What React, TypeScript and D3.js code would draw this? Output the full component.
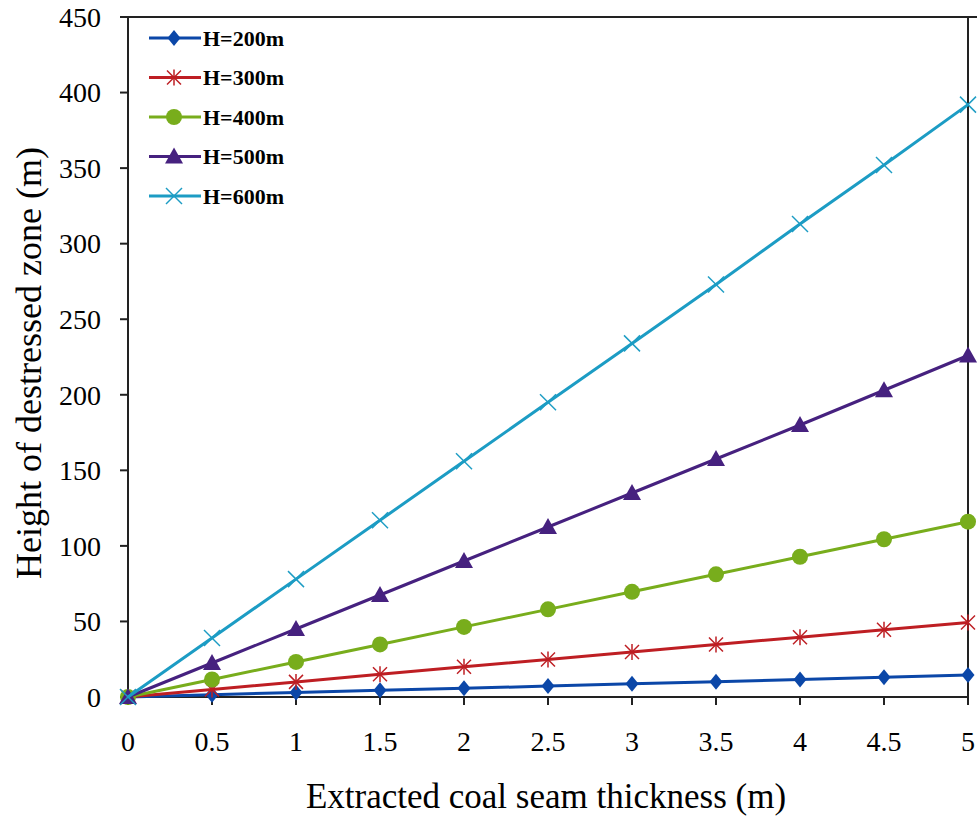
import React from 'react';
import * as d3 from 'd3';

const thickness = [0, 0.5, 1, 1.5, 2, 2.5, 3, 3.5, 4, 4.5, 5];
const h200 = [0, 1.5, 3, 4.4, 5.8, 7.2, 8.7, 10.1, 11.6, 13.1, 14.6];
const h300 = [0, 5, 10, 15, 20, 24.8, 29.8, 34.8, 39.6, 44.5, 49.3];
const h400 = [0, 11.6, 23.2, 34.8, 46.4, 58, 69.6, 81.2, 92.8, 104.4, 116];
const h500 = [0, 22.5, 45, 67.5, 90, 112.5, 135, 157.5, 180, 203, 226];
const h600 = [0, 39, 78, 117, 156, 195, 234, 273, 313, 352, 392];
const xTicks = [0, 0.5, 1, 1.5, 2, 2.5, 3, 3.5, 4, 4.5, 5];
const yTicks = [0, 50, 100, 150, 200, 250, 300, 350, 400, 450];

const series = [
  { name: 'H=200m', values: h200, color: '#0b47a8', marker: 'diamond' },
  { name: 'H=300m', values: h300, color: '#be1e23', marker: 'star' },
  { name: 'H=400m', values: h400, color: '#78ad1c', marker: 'circle' },
  { name: 'H=500m', values: h500, color: '#46217f', marker: 'triangle' },
  { name: 'H=600m', values: h600, color: '#1c9cc4', marker: 'cross' },
];

const W = 977;
const H = 820;
const margin = { left: 128, top: 17, right: 9, bottom: 123 };

const Marker = ({ type, x, y, color }: { type: string; x: number; y: number; color: string }) => {
  if (type === 'diamond') {
    return <path d={`M${x},${y - 8}L${x + 6.5},${y}L${x},${y + 8}L${x - 6.5},${y}Z`} fill={color} />;
  }
  if (type === 'circle') {
    return <circle cx={x} cy={y} r={8} fill={color} />;
  }
  if (type === 'triangle') {
    return <path d={`M${x},${y - 9}L${x + 9},${y + 7}L${x - 9},${y + 7}Z`} fill={color} />;
  }
  if (type === 'star') {
    const r = 7;
    return (
      <g stroke={color} strokeWidth={1.5}>
        <line x1={x - r} y1={y - r} x2={x + r} y2={y + r} />
        <line x1={x - r} y1={y + r} x2={x + r} y2={y - r} />
        <line x1={x} y1={y - r - 1} x2={x} y2={y + r + 1} />
      </g>
    );
  }
  const r = 8;
  return (
    <g stroke={color} strokeWidth={1.5}>
      <line x1={x - r} y1={y - r} x2={x + r} y2={y + r} />
      <line x1={x - r} y1={y + r} x2={x + r} y2={y - r} />
    </g>
  );
};

export default function App() {
  const x = d3.scaleLinear().domain([0, 5]).range([margin.left, W - margin.right]);
  const y = d3.scaleLinear().domain([0, 450]).range([H - margin.bottom, margin.top]);
  const line = d3
    .line<number>()
    .x((_, i) => x(thickness[i]))
    .y((d) => y(d));

  const x0 = x(0);
  const x1 = x(5);
  const y0 = y(0);
  const y1 = y(450);
  const font = 'Liberation Serif, Times New Roman, serif';

  return (
    <svg
      width={W}
      height={H}
      style={{ position: 'absolute', left: 0, top: 0, background: '#fff' }}
      fontFamily={font}
    >
      <rect x={0} y={0} width={W} height={H} fill="#fff" />
      {/* frame */}
      <line x1={x0} y1={y1} x2={W} y2={y1} stroke="#222" strokeWidth={2} />
      <line x1={x1} y1={y1} x2={x1} y2={y0 + 8} stroke="#222" strokeWidth={2} />
      <line x1={x0} y1={y1} x2={x0} y2={y0} stroke="#222" strokeWidth={2} />
      <line x1={x0} y1={y0} x2={x1} y2={y0} stroke="#222" strokeWidth={2} />

      {yTicks.map((t) => (
        <g key={'y' + t}>
          <line x1={x0 - 8} x2={x0} y1={y(t)} y2={y(t)} stroke="#222" strokeWidth={2} />
          <text x={x0 - 27} y={y(t)} dy="0.35em" textAnchor="end" fontSize={28} fill="#000">
            {t}
          </text>
        </g>
      ))}
      {xTicks.map((t) => (
        <g key={'x' + t}>
          <line x1={x(t)} x2={x(t)} y1={y0} y2={y0 + 8} stroke="#222" strokeWidth={2} />
          <text x={x(t)} y={y0 + 44} dy="0.35em" textAnchor="middle" fontSize={28} fill="#000">
            {t}
          </text>
        </g>
      ))}

      <text x={546} y={808} textAnchor="middle" fontSize={35} fill="#000">
        Extracted coal seam thickness (m)
      </text>
      <text
        transform={`translate(41,363) rotate(-90)`}
        textAnchor="middle"
        fontSize={36}
        fill="#000"
      >
        Height of destressed zone (m)
      </text>

      {series.map((s) => (
        <g key={s.name}>
          <path d={line(s.values) || ''} fill="none" stroke={s.color} strokeWidth={3} />
          {s.values.map((v, i) => (
            <Marker key={i} type={s.marker} x={x(thickness[i])} y={y(v)} color={s.color} />
          ))}
        </g>
      ))}

      {series.map((s, i) => {
        const ly = 38 + i * 39.5;
        return (
          <g key={'lg' + s.name}>
            <line x1={149} x2={201} y1={ly} y2={ly} stroke={s.color} strokeWidth={3} />
            <Marker type={s.marker} x={174} y={ly} color={s.color} />
            <text x={203} y={ly} dy="0.35em" fontSize={22} fontWeight="bold" fill="#000">
              {s.name}
            </text>
          </g>
        );
      })}
    </svg>
  );
}
